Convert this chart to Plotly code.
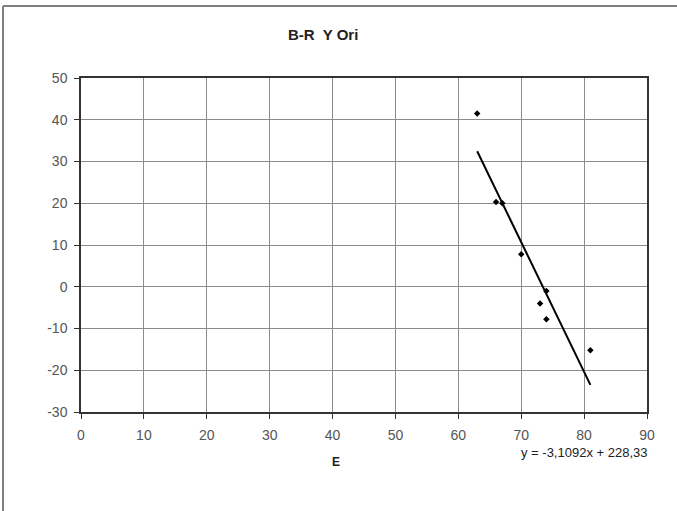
import plotly.graph_objects as go

# B-R vs E measurements for Y Ori
e_values = [63, 66, 67, 70, 74, 73, 74, 81]
br_values = [41.5, 20.3, 20.0, 7.8, -1.0, -4.0, -7.8, -15.2]

# Linear trendline as reported in the fit label
slope = -3.1092
intercept = 228.33
trend_x = [min(e_values), max(e_values)]
trend_y = [slope * x + intercept for x in trend_x]

x_ticks = list(range(0, 91, 10))
y_ticks = list(range(-30, 51, 10))
y_tick_text = [str(v) for v in y_ticks]  # plain hyphen minus signs

W, H = 677, 511
L, R, T, B = 81, 30, 78, 99
pw, ph = W - L - R, H - T - B

def px(xp):
    return (xp - L) / pw

def py(yp):
    return (H - B - yp) / ph

FONT = "Liberation Sans, Arial, sans-serif"

fig = go.Figure()
fig.add_trace(go.Scatter(
    x=e_values, y=br_values, mode="markers",
    marker=dict(symbol="diamond", size=5, color="black"),
    showlegend=False, hoverinfo="x+y",
))
fig.add_trace(go.Scatter(
    x=trend_x, y=trend_y, mode="lines",
    line=dict(color="black", width=2),
    showlegend=False, hoverinfo="skip",
))

axis_common = dict(
    showgrid=True, gridcolor="#8c8c8c", gridwidth=1,
    showline=True, linecolor="#333333", linewidth=1.5, mirror=True,
    ticks="outside", ticklen=5, tickcolor="#333333", tickwidth=1,
    tickfont=dict(family=FONT, size=14, color="#555555"),
    ticklabelstandoff=4,
    zeroline=False, fixedrange=True,
)

fig.update_layout(
    width=W, height=H,
    margin=dict(l=L, r=R, t=T, b=B, pad=0),
    paper_bgcolor="white", plot_bgcolor="white",
    xaxis=dict(range=[0, 90], tickvals=x_ticks, **axis_common),
    yaxis=dict(range=[-30, 50], tickvals=y_ticks, ticktext=y_tick_text, **axis_common),
    annotations=[
        dict(text="<b>B-R  Y Ori</b>", x=px(323), y=py(34), xref="paper", yref="paper",
             showarrow=False, xanchor="center", yanchor="middle",
             font=dict(family=FONT, size=15, color="#222222")),
        dict(text="<b>E</b>", x=px(336), y=py(462), xref="paper", yref="paper",
             showarrow=False, xanchor="center", yanchor="middle",
             font=dict(family=FONT, size=12, color="#222222")),
        dict(text="y = -3,1092x + 228,33", x=px(649), y=py(452), xref="paper", yref="paper",
             showarrow=False, xanchor="right", yanchor="middle",
             font=dict(family=FONT, size=13, color="#222222")),
    ],
    shapes=[
        dict(type="line", xref="paper", yref="paper", x0=px(3), x1=px(3), y0=py(6), y1=py(H + 2),
             line=dict(color="#808080", width=2)),
        dict(type="line", xref="paper", yref="paper", x0=px(3), x1=px(W + 2), y0=py(6), y1=py(6),
             line=dict(color="#808080", width=2)),
    ],
)

fig.write_html("out.html")
